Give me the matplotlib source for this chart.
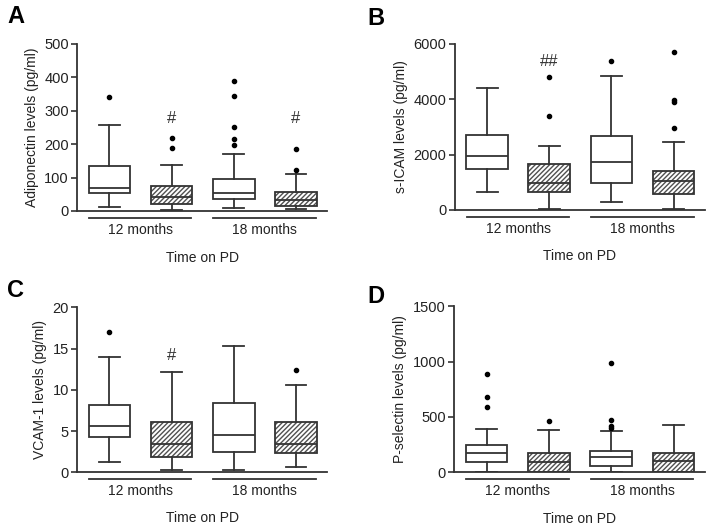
import numpy as np
import matplotlib.pyplot as plt
from matplotlib.patches import PathPatch

plt.rcParams['font.family'] = ['Liberation Sans', 'DejaVu Sans']

# Gruppi e serie (bianco = gruppo 1, tratteggiato = gruppo 2)
gruppi = ['12 months', '18 months']

# Statistiche: [baffo basso, Q1, mediana, Q3, baffo alto]
adipo_box = [[13, 53, 68, 136, 258], [3, 20, 41, 75, 138],
             [10, 35, 55, 96, 172], [5, 16, 34, 58, 111]]
adipo_out = [[340], [189, 219], [198, 214, 252, 345, 389], [124, 187]]
adipo_sig = ['', '#', '', '#']
adipo_sig_y = [0, 277, 0, 277]

icam_box = [[630, 1490, 1935, 2710, 4400], [40, 630, 990, 1660, 2310],
            [270, 965, 1730, 2660, 4850], [40, 580, 1050, 1415, 2470]]
icam_out = [[], [3410, 4800], [5390], [2950, 3890, 3960, 5700]]
icam_sig = ['', '##', '', '']
icam_sig_y = [0, 5370, 0, 0]

vcam_box = [[1.2, 4.3, 5.6, 8.2, 13.95], [0.32, 1.8, 3.45, 6.05, 12.15],
            [0.28, 2.45, 4.5, 8.4, 15.3], [0.68, 2.33, 3.45, 6.05, 10.6]]
vcam_out = [[17.0], [], [], [12.4]]
vcam_sig = ['', '#', '', '']
vcam_sig_y = [0, 14.2, 0, 0]

psel_box = [[0, 91, 175, 247, 389], [0, 6, 94, 178, 380],
            [0, 60, 136, 196, 371], [0, 0, 100, 172, 429]]
psel_out = [[592, 679, 890], [459], [398, 420, 471, 990], []]
psel_sig = ['', '', '', '']
psel_sig_y = [0, 0, 0, 0]

col = '#333333'
txt = '#222222'


def disegna(ax, box, out, sig, sig_y, ylab, ymax, ystep):
    stats = []
    for b, o in zip(box, out):
        stats.append({'whislo': b[0], 'q1': b[1], 'med': b[2], 'q3': b[3],
                      'whishi': b[4], 'fliers': o})
    pos = np.arange(1, len(stats) + 1)
    bp = ax.bxp(stats, positions=pos, widths=0.67, patch_artist=True,
                boxprops=dict(facecolor='white', edgecolor=col, linewidth=1.3),
                whiskerprops=dict(color=col, linewidth=1.3),
                capprops=dict(color=col, linewidth=1.3),
                medianprops=dict(color=col, linewidth=1.3),
                flierprops=dict(marker='o', markersize=3, markerfacecolor='black',
                                markeredgecolor='black'))
    # tratteggio per le scatole del secondo gruppo
    for i in [1, 3]:
        b = bp['boxes'][i]
        b.set_facecolor('none')
        h = PathPatch(b.get_path(), facecolor='white', edgecolor='#505050',
                      linewidth=0, hatch='///////', zorder=b.get_zorder() - 0.1)
        ax.add_patch(h)
    for p, s, y in zip(pos, sig, sig_y):
        if s:
            ax.text(p, y, s, ha='center', va='center', fontsize=12, color=col)

    ax.set_xlim(0.48, 4.5)
    ax.set_ylim(0, ymax)
    ax.set_yticks(np.arange(0, ymax + 1e-9, ystep))
    ax.set_xticks([])
    for s in ['top', 'right']:
        ax.spines[s].set_visible(False)
    for s in ['left', 'bottom']:
        ax.spines[s].set_linewidth(1.3)
        ax.spines[s].set_color(col)
    ax.tick_params(axis='y', direction='out', length=4, width=1.2, color=col,
                   labelsize=10.5, labelcolor=txt, pad=2)
    ax.set_ylabel(ylab, fontsize=10, color=txt, labelpad=4)

    tr = ax.get_xaxis_transform()
    for g, nome in enumerate(gruppi):
        c = 1.5 + 2 * g
        ax.plot([c - 0.83, c + 0.82], [-0.04, -0.04], transform=tr,
                clip_on=False, color=col, linewidth=1.3)
        ax.text(c, -0.115, nome, transform=tr, ha='center', va='center',
                fontsize=10, color=txt)
    ax.text(0.5, -0.28, 'Time on PD', transform=ax.transAxes, ha='center',
            va='center', fontsize=10, color=txt)
    return bp


fig = plt.figure(figsize=(7.14, 5.30), dpi=100)
axA = fig.add_axes([0.108, 0.602, 0.350, 0.315])
axB = fig.add_axes([0.637, 0.604, 0.350, 0.313])
axC = fig.add_axes([0.108, 0.109, 0.350, 0.311])
axD = fig.add_axes([0.636, 0.109, 0.351, 0.313])

disegna(axA, adipo_box, adipo_out, adipo_sig, adipo_sig_y,
        'Adiponectin levels (pg/ml)', 500, 100)
disegna(axB, icam_box, icam_out, icam_sig, icam_sig_y,
        's-ICAM levels (pg/ml)', 6000, 2000)
disegna(axC, vcam_box, vcam_out, vcam_sig, vcam_sig_y,
        'VCAM-1 levels (pg/ml)', 20, 5)
disegna(axD, psel_box, psel_out, psel_sig, psel_sig_y,
        'P-selectin levels (pg/ml)', 1500, 500)

# Lettere dei pannelli
fig.text(0.022, 0.968, 'A', fontsize=17, fontweight='bold', ha='center', va='center')
fig.text(0.527, 0.966, 'B', fontsize=17, fontweight='bold', ha='center', va='center')
fig.text(0.022, 0.451, 'C', fontsize=17, fontweight='bold', ha='center', va='center')
fig.text(0.527, 0.441, 'D', fontsize=17, fontweight='bold', ha='center', va='center')

fig.savefig('out.png', dpi=100)
